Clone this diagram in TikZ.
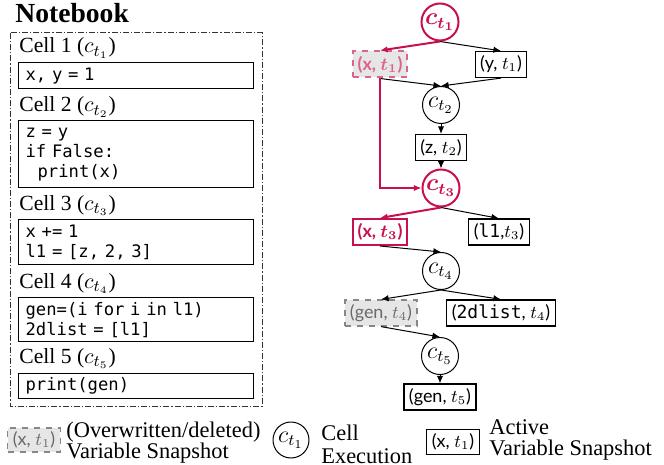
\documentclass[tikz,border=0pt]{standalone}
\usepackage{fontspec}
\usepackage{bm}
\setmainfont{Liberation Serif}
\setsansfont{Lato}
\setmonofont{DejaVu Sans Mono}
\usetikzlibrary{arrows.meta}
\definecolor{crim}{RGB}{200,16,78}
\definecolor{pinkred}{RGB}{218,100,140}
\definecolor{snapfill}{RGB}{230,230,230}
\definecolor{ghost}{RGB}{105,105,105}
\newcommand\mycode{\ttfamily\fontsize{8.6}{10}\selectfont}
\tikzset{
  exec/.style={circle, draw, line width=0.5pt, minimum size=18.5pt, inner sep=0pt, font=\large},
  execact/.style={exec, draw=crim, text=crim, line width=1pt},
  snap/.style={draw, line width=0.6pt, minimum height=13pt, inner xsep=2.5pt, inner ysep=0pt, font=\sffamily\small},
  snapred/.style={snap, draw=crim, text=crim, line width=1pt, font=\sffamily\small\bfseries},
  snapold/.style={snap, dashed, draw=pinkred, fill=snapfill, text=pinkred, line width=1pt, font=\sffamily\small\bfseries},
  snapgone/.style={snap, dashed, draw=ghost!80, fill=snapfill, text=ghost, line width=0.6pt},
  edge/.style={-{Latex[length=3.8pt,width=3.2pt]}, line width=0.5pt},
  edgered/.style={edge, draw=crim, line width=1pt},
  cellbox/.style={draw, line width=0.6pt, anchor=north west, minimum width=117.5pt, inner xsep=3.5pt, inner ysep=0pt, align=left, text width=110.5pt, font=\mycode},
  celllabel/.style={anchor=base west, inner sep=0pt, font=\fontsize{10.8}{12}\selectfont},
  legendtext/.style={anchor=west, align=left, inner sep=0pt},
  frame/.style={draw=black!80, line width=0.5pt, dash pattern=on 3pt off 1pt on 0.6pt off 1pt},
}
\begin{document}
\begin{tikzpicture}[x=0.5pt, y=-0.5pt]
\useasboundingbox (0,0) rectangle (664,465);

% ---------- Notebook ----------
\node[anchor=base west, inner sep=0pt, font=\fontsize{13.8}{15}\selectfont\bfseries] (title) at (15,23) {Notebook};
\draw[frame] (10,33) rectangle (262,406);

\node[celllabel] (l1) at (19,53) {Cell 1 ($c_{t_1}$)};
\node[cellbox, minimum height=13pt] (b1) at (18,62) {x, y = 1};
\node[celllabel] (l2) at (19,112) {Cell 2 ($c_{t_2}$)};
\node[cellbox, minimum height=33.5pt] (b2) at (18,120) {z = y\\if False:\\\hspace*{6pt}print(x)};
\node[celllabel] (l3) at (19,210) {Cell 3 ($c_{t_3}$)};
\node[cellbox, minimum height=22.5pt] (b3) at (18,219) {x += 1\\l1 = [z, 2, 3]};
\node[celllabel] (l4) at (19,288) {Cell 4 ($c_{t_4}$)};
\node[cellbox, minimum height=22pt] (b4) at (18,297) {gen=(i for i in l1)\\2dlist = [l1]};
\node[celllabel] (l5) at (19,363) {Cell 5 ($c_{t_5}$)};
\node[cellbox, minimum height=12.5pt] (b5) at (18,373) {print(gen)};

% ---------- Graph ----------
\node[execact] (c1) at (440,22) {$\bm{c_{t_1}}$};
\node[snapold] (x1) at (380,64.5) {(x, $\bm{t_1}$)};
\node[snap] (y1) at (501,64.5) {(y, $t_1$)};
\node[exec] (c2) at (441,105) {$c_{t_2}$};
\node[snap] (z2) at (441,147.5) {(z, $t_2$)};
\node[execact] (c3) at (441,188) {$\bm{c_{t_3}}$};
\node[snapred] (x3) at (380,232) {(x, $\bm{t_3}$)};
\node[snap] (l13) at (499,232) {({\ttfamily l1},$t_3$)};
\node[exec] (c4) at (441,271) {$c_{t_4}$};
\node[snapgone] (g4) at (381,313) {(gen, $t_4$)};
\node[snap] (d4) at (501,313) {({\ttfamily 2dlist}, $t_4$)};
\node[exec] (c5) at (440,356) {$c_{t_5}$};
\node[snap] (g5) at (440,397) {(gen, $t_5$)};

\draw[edge] (c1.south) -- (y1.north);
\draw[edge] (x1.south) -- (c2.north);
\draw[edge] (y1.south) -- (c2.north);
\draw[edge] (c2) -- (z2);
\draw[edge] (z2) -- (c3);
\draw[edgered] (c1.south) -- (x1.north);
\draw[edgered] (x1.south) |- (c3.west);
\draw[edge] (c3.south) -- (l13.north);
\draw[edgered] (c3.south) -- (x3.north);
\draw[edge] (x3.south) -- (c4.north);
\draw[edge] (c4.south) -- (g4.north);
\draw[edge] (c4.south) -- (d4.north);
\draw[edge] (g4.south) -- (c5.north);
\draw[edge] (c5) -- (g5);

% ---------- Legend ----------
\node[snapgone, minimum height=12pt] (lg1) at (34,440) {(x, $t_1$)};
\node[legendtext, font=\fontsize{11.2}{10.5}\selectfont] (lt1) at (66,443) {(Overwritten/deleted)\\Variable Snapshot};
\node[exec, minimum size=18pt] (lg2) at (291,440) {$c_{t_1}$};
\node[legendtext, font=\fontsize{11.2}{11.5}\selectfont] (lt2) at (321,444) {Cell\\Execution};
\node[snap, minimum height=12.5pt] (lg3) at (453,442) {(x, $t_1$)};
\node[legendtext, font=\fontsize{11.2}{10.5}\selectfont] (lt3) at (489,440) {Active\\Variable Snapshot};
\end{tikzpicture}
\end{document}
